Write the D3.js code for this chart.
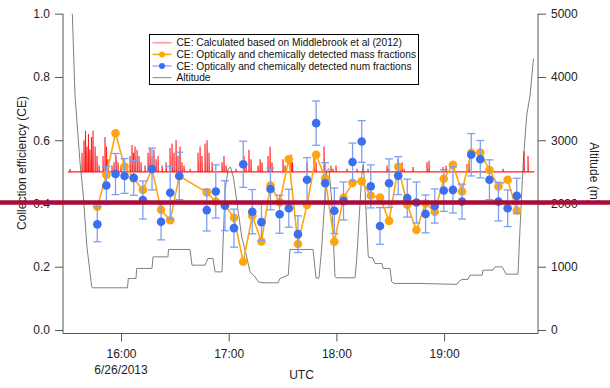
<!DOCTYPE html>
<html>
<head>
<meta charset="utf-8">
<script src="https://cdn.jsdelivr.net/npm/d3@7"></script>
<style>
body { margin: 0; background: #fff; }
svg { display: block; font-family: "Liberation Sans", Arial, sans-serif; }
</style>
</head>
<body>
<svg width="610" height="388"></svg>
<script>
// times are decimal hours UTC on 6/26/2013

// CE measured every ~5 min (mass / number fractions)
var sampleTimes = [15.780, 15.864, 15.949, 16.033, 16.118, 16.203, 16.288, 16.372, 16.457, 16.541,
    16.796, 16.880, 16.965, 17.049, 17.135, 17.219, 17.304, 17.388, 17.473, 17.558,
    17.643, 17.727, 17.812, 17.896, 17.981, 18.066, 18.150, 18.235, 18.319, 18.405,
    18.489, 18.574, 18.658, 18.743, 18.828, 18.913, 18.997, 19.082, 19.166, 19.252,
    19.336, 19.421, 19.505, 19.590, 19.675];
var massCE = [0.39, 0.49, 0.622, 0.517, 0.48, 0.443, 0.509, 0.38, 0.347, 0.487,
    0.435, 0.406, 0.395, 0.355, 0.216, 0.361, 0.28, 0.457, 0.404, 0.54,
    0.272, 0.395, 0.554, 0.48, 0.279, 0.418, 0.465, 0.47, 0.425, 0.419,
    0.345, 0.516, 0.396, 0.316, 0.40, 0.374, 0.478, 0.522, 0.438, 0.56,
    0.561, 0.506, 0.454, 0.475, 0.378];
var numCE = [0.334, 0.457, 0.493, 0.487, 0.481, 0.411, 0.509, 0.342, 0.434, 0.487,
    0.379, 0.438, 0.393, 0.322, 0.524, 0.374, 0.341, 0.446, 0.366, 0.385,
    0.303, 0.475, 0.654, 0.464, 0.377, 0.408, 0.531, 0.596, 0.454, 0.329,
    0.464, 0.488, 0.417, 0.403, 0.367, 0.392, 0.441, 0.443, 0.406, 0.554,
    0.54, 0.475, 0.406, 0.385, 0.424];
var numErr = [0.055, 0.06, 0.065, 0.055, 0.055, 0.06, 0.066, 0.057, 0.083, 0.075,
    0.066, 0.084, 0.079, 0.06, 0.073, 0.07, 0.058, 0.066, 0.06, 0.06,
    0.058, 0.07, 0.07, 0.065, 0.072, 0.06, 0.06, 0.066, 0.068, 0.058,
    0.077, 0.06, 0.06, 0.065, 0.06, 0.054, 0.066, 0.073, 0.055, 0.067,
    0.059, 0.063, 0.061, 0.058, 0.056];

// CE from Middlebrook et al (2012): 0.5 floor with short excursions
var mbTimes = [15.508, 15.526, 15.638, 15.656, 15.670, 15.684, 15.698, 15.712, 15.726, 15.740,
    15.759, 15.777, 15.796, 15.833, 15.851, 15.865, 15.879, 15.916, 15.935, 15.954,
    15.972, 16.000, 16.028, 16.056, 16.084, 16.102, 16.116, 16.130, 16.149, 16.167,
    16.186, 16.223, 16.251, 16.269, 16.288, 16.306, 16.325, 16.344, 16.381, 16.418,
    16.455, 16.474, 16.492, 16.511, 16.529, 16.548, 16.566, 16.585, 16.641, 16.715,
    16.734, 16.752, 16.780, 16.799, 16.817, 16.845, 16.938, 16.956, 16.975, 17.068,
    17.142, 17.161, 17.188, 17.207, 17.272, 17.291, 17.309, 17.365, 17.384, 17.402,
    17.504, 17.523, 17.578, 17.592, 17.727, 17.792, 17.811, 17.885, 17.950, 17.968,
    17.996, 18.098, 18.191, 18.293, 18.470, 18.488, 18.572, 18.591, 18.609, 18.628,
    18.711, 18.841, 18.860, 18.990, 19.018, 19.213, 19.231, 19.547, 19.742, 19.779, 19.835];
var mbCE = [0.5, 0.51, 0.56, 0.60, 0.63, 0.58, 0.62, 0.57, 0.61, 0.63,
    0.58, 0.55, 0.52, 0.55, 0.61, 0.58, 0.54, 0.52, 0.53, 0.55,
    0.53, 0.52, 0.54, 0.52, 0.55, 0.585, 0.56, 0.58, 0.57, 0.55,
    0.53, 0.52, 0.56, 0.575, 0.55, 0.57, 0.54, 0.55, 0.52, 0.53,
    0.575, 0.59, 0.56, 0.60, 0.55, 0.58, 0.53, 0.52, 0.51, 0.56,
    0.58, 0.55, 0.59, 0.60, 0.56, 0.53, 0.53, 0.55, 0.52, 0.51,
    0.55, 0.52, 0.57, 0.54, 0.52, 0.54, 0.53, 0.55, 0.58, 0.53,
    0.54, 0.52, 0.555, 0.53, 0.53, 0.55, 0.53, 0.58, 0.52, 0.51,
    0.52, 0.51, 0.51, 0.51, 0.52, 0.51, 0.54, 0.52, 0.53, 0.51,
    0.515, 0.53, 0.535, 0.515, 0.52, 0.525, 0.535, 0.51, 0.565, 0.55, 0.5];
var mbFloor = 0.5;

// aircraft altitude (m)
var altTimes = [15.548, 15.573, 15.619, 15.650, 15.682, 15.728, 15.735, 16.060, 16.068, 16.139,
    16.146, 16.288, 16.297, 16.436, 16.441, 16.641, 16.659, 16.780, 16.808, 16.854,
    16.873, 16.938, 16.966, 16.996, 17.017, 17.043, 17.074, 17.121, 17.167, 17.198,
    17.244, 17.275, 17.318, 17.458, 17.476, 17.553, 17.569, 17.783, 17.811, 17.838,
    17.862, 17.910, 17.931, 17.956, 17.987, 18.006, 18.173, 18.188, 18.235, 18.250,
    18.266, 18.281, 18.296, 18.340, 18.358, 18.423, 18.433, 18.498, 18.513, 18.535,
    18.758, 19.120, 19.132, 19.166, 19.222, 19.240, 19.352, 19.361, 19.454, 19.473,
    19.538, 19.556, 19.575, 19.686, 19.705, 19.735, 19.767, 19.798, 19.830];
var altitude = [5000, 3706, 2654, 2129, 1340, 683, 667, 667, 815, 815,
    973, 973, 1156, 1156, 1273, 1273, 1025, 1025, 1131, 1131,
    919, 919, 2208, 2550, 2575, 2418, 2050, 1471, 1156, 919,
    841, 762, 746, 746, 815, 867, 1273, 1273, 820, 820,
    1262, 2523, 2550, 2050, 841, 825, 825, 1104, 2444, 2629,
    2208, 1656, 1156, 1135, 1052, 1052, 973, 973, 762, 736,
    736, 721, 762, 800, 800, 867, 867, 946, 946, 998,
    998, 946, 883, 883, 1604, 2654, 3391, 3706, 4290];

var ceTicks = [0, 0.2, 0.4, 0.6, 0.8, 1.0];
var altTicks = [0, 1000, 2000, 3000, 4000, 5000];
var markCE = 0.4;

var legendItems = [
    {label: "CE: Calculated based on Middlebrook et al (2012)", kind: "mb"},
    {label: "CE: Optically and chemically detected mass fractions", kind: "mass"},
    {label: "CE: Optically and chemically detected num fractions", kind: "num"},
    {label: "Altitude", kind: "alt"}
];

var day0 = Date.UTC(2013, 5, 26);
function toDate(h) { return new Date(day0 + h * 3600000); }

var colors = {mb: "#ff0000", mass: "#ffa60f", num: "#3b6ff0", err: "#7f9ef2", alt: "#808080"};

var svg = d3.select("svg");
var left = 63, right = 538, bottom = 333.5;

var x = d3.scaleUtc().domain([toDate(15.4614), toDate(19.8719)]).range([left, right]);
var y = d3.scaleLinear().domain([0, 1]).range([330, 13.7]);
var yAlt = d3.scaleLinear().domain([0, 5000]).range([330, 13.7]);

// altitude trace
var altData = altTimes.map(function(t, i) { return [t, altitude[i]]; });
svg.append("path")
    .datum(altData)
    .attr("fill", "none")
    .attr("stroke", colors.alt)
    .attr("stroke-width", 1)
    .attr("d", d3.line().x(function(d) { return x(toDate(d[0])); }).y(function(d) { return yAlt(d[1]); }));

// Middlebrook CE: floor with vertical excursions
var mbData = [];
mbTimes.forEach(function(t, i) {
    mbData.push([t, mbFloor]);
    mbData.push([t, mbCE[i]]);
    mbData.push([t + 0.003, mbFloor]);
});
svg.append("path")
    .datum(mbData)
    .attr("fill", "none")
    .attr("stroke", colors.mb)
    .attr("stroke-opacity", 0.88)
    .attr("stroke-width", 1.1)
    .attr("d", d3.line().x(function(d) { return x(toDate(d[0])); }).y(function(d) { return y(d[1]); }));

// mass fraction CE
var massData = sampleTimes.map(function(t, i) { return {t: t, v: massCE[i]}; });
svg.append("path")
    .datum(massData)
    .attr("fill", "none")
    .attr("stroke", colors.mass)
    .attr("stroke-width", 1.6)
    .attr("d", d3.line().x(function(d) { return x(toDate(d.t)); }).y(function(d) { return y(d.v); }));
svg.append("g").selectAll("circle")
    .data(massData).enter().append("circle")
    .attr("cx", function(d) { return x(toDate(d.t)); })
    .attr("cy", function(d) { return y(d.v); })
    .attr("r", 4.3)
    .attr("fill", colors.mass);

// number fraction CE with error bars
var numData = sampleTimes.map(function(t, i) { return {t: t, v: numCE[i], e: numErr[i]}; });
var errG = svg.append("g")
    .attr("stroke", colors.err)
    .attr("stroke-width", 1.3);
numData.forEach(function(d) {
    var cx = x(toDate(d.t));
    errG.append("line").attr("x1", cx).attr("x2", cx).attr("y1", y(d.v - d.e)).attr("y2", y(d.v + d.e));
    errG.append("line").attr("x1", cx - 4).attr("x2", cx + 4).attr("y1", y(d.v - d.e)).attr("y2", y(d.v - d.e));
    errG.append("line").attr("x1", cx - 4).attr("x2", cx + 4).attr("y1", y(d.v + d.e)).attr("y2", y(d.v + d.e));
});
svg.append("g").selectAll("circle")
    .data(numData).enter().append("circle")
    .attr("cx", function(d) { return x(toDate(d.t)); })
    .attr("cy", function(d) { return y(d.v); })
    .attr("r", 4.3)
    .attr("fill", colors.num);

// axes
var axisColor = "#555";
function styleAxis(g) {
    g.select(".domain").remove();
    g.selectAll(".tick line").attr("stroke", axisColor);
    g.selectAll(".tick text").attr("fill", "#222").style("font-size", "12px");
}

svg.append("g")
    .attr("transform", "translate(" + left + ",0)")
    .call(d3.axisLeft(y).tickValues(ceTicks).tickFormat(d3.format(".1f")).tickSize(8).tickPadding(5))
    .call(styleAxis);

svg.append("g")
    .attr("transform", "translate(" + right + ",0)")
    .call(d3.axisRight(yAlt).tickValues(altTicks).tickFormat(d3.format("d")).tickSize(8).tickPadding(5))
    .call(styleAxis);

svg.append("g")
    .attr("transform", "translate(0," + bottom + ")")
    .call(d3.axisBottom(x).ticks(d3.utcHour.every(1)).tickFormat(d3.utcFormat("%H:%M")).tickSize(8).tickPadding(8))
    .call(styleAxis);

// date under the first hour tick
var firstTick = x.ticks(d3.utcHour.every(1))[0];
svg.append("text")
    .attr("x", x(firstTick))
    .attr("y", 374.3)
    .attr("text-anchor", "middle")
    .attr("fill", "#222")
    .style("font-size", "12px")
    .text(d3.utcFormat("%-m/%-d/%Y")(firstTick));

// frame
svg.append("path")
    .attr("fill", "none")
    .attr("stroke", axisColor)
    .attr("stroke-width", 1)
    .attr("d", "M" + left + "," + y(1) + "V" + bottom + "H" + right + "V" + yAlt(5000));

// axis titles
svg.append("text")
    .attr("transform", "translate(26," + 163 + ") rotate(-90)")
    .attr("text-anchor", "middle")
    .attr("fill", "#222")
    .style("font-size", "12px")
    .text("Collection efficiency (CE)");

svg.append("text")
    .attr("transform", "translate(589.5," + 173 + ") rotate(90)")
    .attr("text-anchor", "middle")
    .attr("fill", "#222")
    .style("font-size", "12px")
    .text("Altitude (m)");

svg.append("text")
    .attr("x", (left + right) / 2 + 1)
    .attr("y", 379.3)
    .attr("text-anchor", "middle")
    .attr("fill", "#222")
    .style("font-size", "12px")
    .text("UTC");

// legend
var lg = svg.append("g").attr("transform", "translate(149.5,34.5)");
lg.append("rect")
    .attr("width", 269)
    .attr("height", 50)
    .attr("fill", "#fff")
    .attr("stroke", "#000")
    .attr("stroke-width", 1);
legendItems.forEach(function(item, i) {
    var ly = 8.3 + i * 11.6;
    var row = lg.append("g").attr("transform", "translate(0," + ly + ")");
    var line = row.append("line")
        .attr("x1", 3).attr("x2", 22).attr("y1", 0).attr("y2", 0)
        .attr("stroke-width", item.kind === "mass" ? 1.6 : 1.2);
    if (item.kind === "mb") line.attr("stroke", colors.mb).attr("stroke-opacity", 0.5);
    if (item.kind === "mass") line.attr("stroke", colors.mass);
    if (item.kind === "num") line.attr("stroke", colors.err);
    if (item.kind === "alt") line.attr("stroke", colors.alt).attr("stroke-opacity", 0.8);
    if (item.kind === "mass" || item.kind === "num") {
        row.append("circle").attr("cx", 12.5).attr("cy", 0).attr("r", 3)
            .attr("fill", item.kind === "mass" ? colors.mass : colors.num);
    }
    row.append("text")
        .attr("x", 27)
        .attr("y", 3.6)
        .attr("fill", "#111")
        .style("font-size", "10.2px")
        .text(item.label);
});

// reference line at CE = 0.4 across the whole picture
svg.append("line")
    .attr("x1", 0).attr("x2", 610)
    .attr("y1", y(markCE) - 1).attr("y2", y(markCE) - 1)
    .attr("stroke", "#a80d38")
    .attr("stroke-width", 4.5);
</script>
</body>
</html>
